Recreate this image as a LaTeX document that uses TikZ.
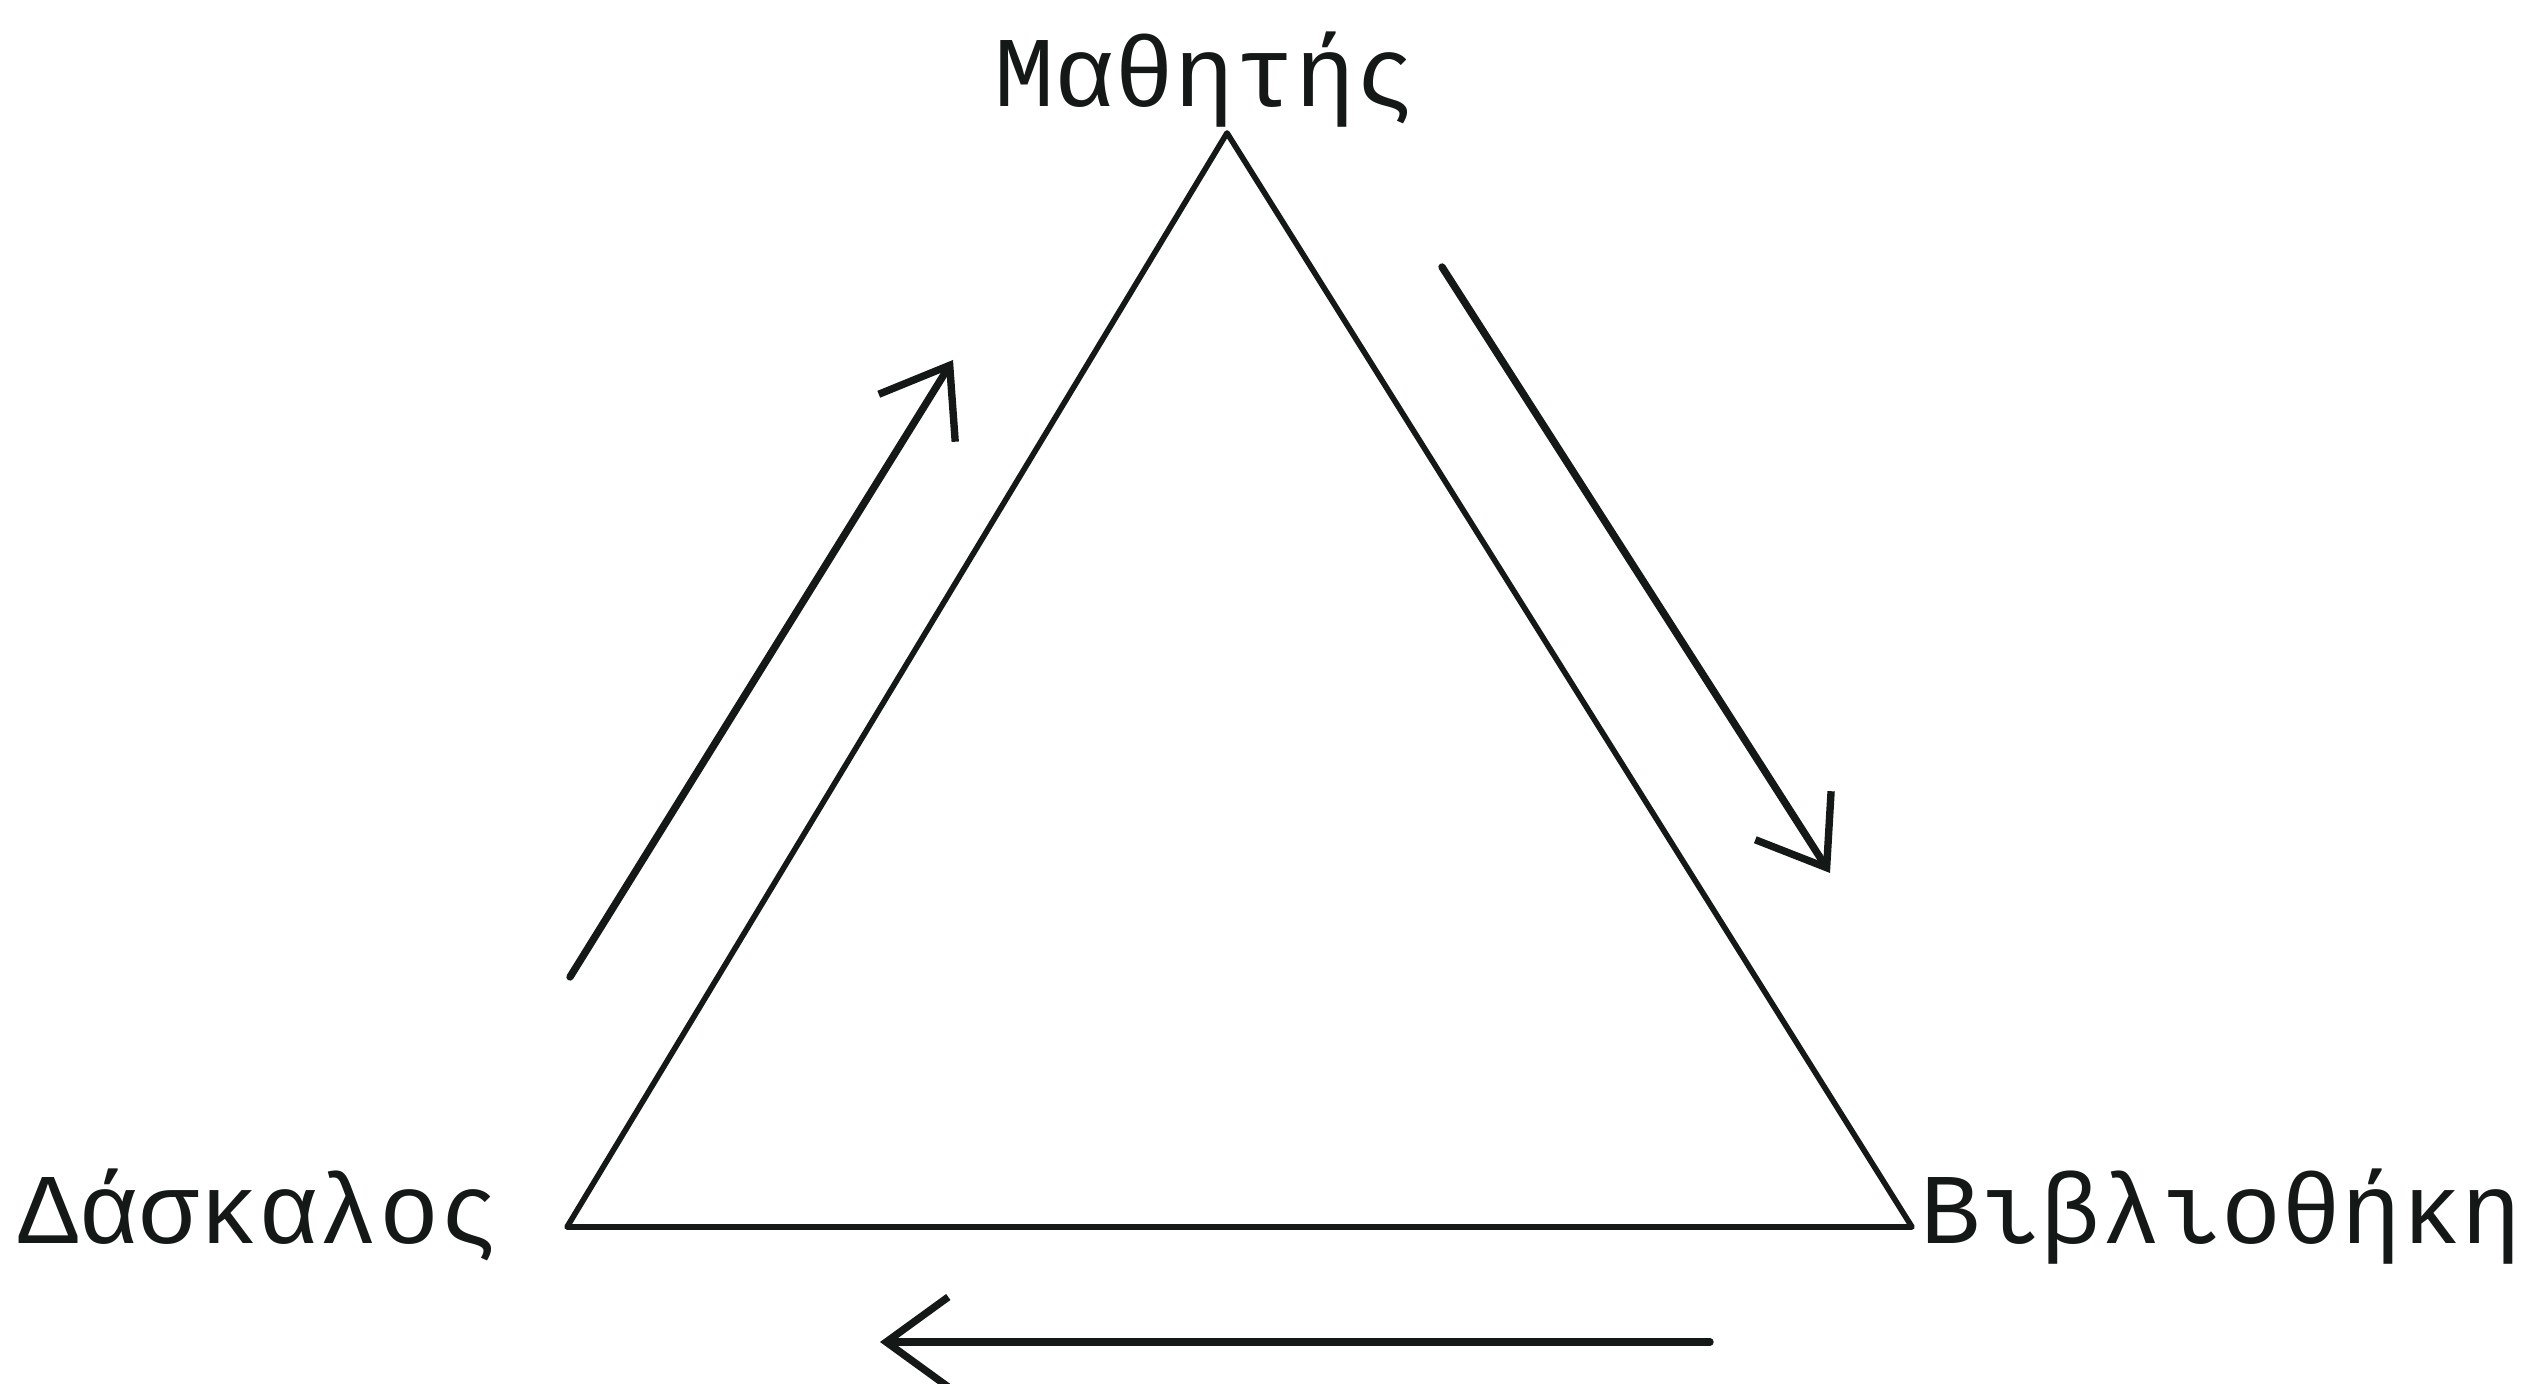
\documentclass[tikz,border=0pt]{standalone}
\usepackage{fontspec}
\setmainfont{Liberation Mono}
\usetikzlibrary{arrows.meta, positioning, calc}
\usepackage{xcolor}
\definecolor{Ink}{HTML}{141816}

\begin{document}
\begin{tikzpicture}[
            side/.style={line width=1.6pt, color=Ink, line join=round},
            flow/.style={
                -{Straight Barb[length=0.62cm, width=0.9cm, line width=2.1pt]},
                line width=2.1pt,
                line cap=round,
                color=Ink
            },
            role/.style={
                inner sep=0pt,
                anchor=base,
                font=\fontsize{28.5}{30}\selectfont,
                text=Ink
            }
        ]
            \useasboundingbox (0,0) rectangle (25.41,13.83);

            % Corners of the triangle
            \coordinate (apex) at (12.27,12.5);
            \coordinate (left) at (5.67,1.56);
            \coordinate (right) at (19.12,1.56);

            \node[role] (mathitis) at (12.05,12.76) {Μαθητής};
            \node[role, anchor=base east] (daskalos) at (5.0,1.40) {Δάσκαλος};
            \node[role, anchor=base west] (vivliothiki) at (19.20,1.40) {Βιβλιοθήκη};

            \draw[side] (apex) -- (right) -- (left) -- cycle;

            % Ends of the arrows beside the sides
            \coordinate (upfrom) at (5.70,4.06);
            \coordinate (upto) at (9.53,10.23);
            \coordinate (downfrom) at (14.42,11.16);
            \coordinate (downto) at (18.30,5.10);
            \coordinate (backfrom) at (17.10,0.41);
            \coordinate (backto) at (8.80,0.41);

            \draw[flow] (upfrom) -- (upto);
            \draw[flow] (downfrom) -- (downto);
            \draw[flow] (backfrom) -- (backto);
        \end{tikzpicture}
\end{document}
